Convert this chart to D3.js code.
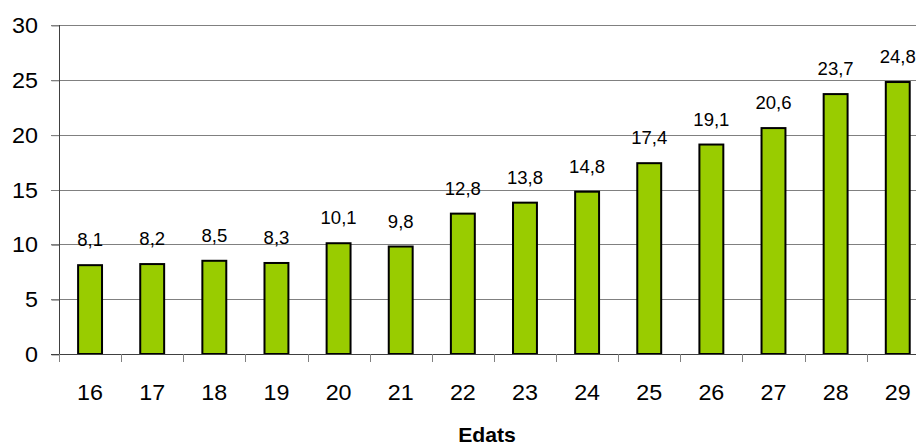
<!DOCTYPE html>
<html><head><meta charset="utf-8">
<script src="https://cdn.jsdelivr.net/npm/d3@7"></script>
<style>body{margin:0;background:#fff}svg{display:block}</style>
</head><body>
<script>
const categories = ["16","17","18","19","20","21","22","23","24","25","26","27","28","29"];
const values = [8.1,8.2,8.5,8.3,10.1,9.8,12.8,13.8,14.8,17.4,19.1,20.6,23.7,24.8];
const labels = ["8,1","8,2","8,5","8,3","10,1","9,8","12,8","13,8","14,8","17,4","19,1","20,6","23,7","24,8"];
const yTicks = [0,5,10,15,20,25,30];
const xTitle = "Edats";

const W = 916, H = 447;
const svg = d3.select("body").append("svg").attr("width", W).attr("height", H);
const font = "'Liberation Sans', Arial, sans-serif";
const SX = 1.06;

function stretchedText(g, px, py, txt, size, anchor, weight) {
  return g.append("text")
    .attr("transform", `translate(${px},${py}) scale(${SX},1)`)
    .attr("text-anchor", anchor)
    .attr("font-family", font).attr("font-size", size)
    .attr("font-weight", weight || "normal")
    .attr("fill", "#000").text(txt);
}

const x0 = 59, step = 62.13;
const x = d3.scaleBand().domain(categories).range([x0, x0 + step * categories.length]).paddingInner(0.615).paddingOuter(0.3075);
const y = d3.scaleLinear().domain([0, 30]).range([354, 25]);

// gridlines
svg.append("g").selectAll("line").data(yTicks.filter(d => d > 0)).join("line")
  .attr("x1", 51).attr("x2", W).attr("y1", d => Math.round(y(d)) + 0.5).attr("y2", d => Math.round(y(d)) + 0.5)
  .attr("stroke", "#808080").attr("stroke-width", 1);

// y axis ticks via d3 axis, labels drawn separately
const ya = svg.append("g").attr("transform", `translate(${x0 + 0.5},0)`)
  .call(d3.axisLeft(y).tickValues(yTicks).tickSize(8).tickFormat(""));
ya.select(".domain").remove();
ya.selectAll(".tick line").attr("stroke", "#808080").attr("transform", "translate(0,0.5)");
const yl = svg.append("g");
yTicks.forEach(t => stretchedText(yl, 38, y(t) + 8, String(t), 22, "end"));
svg.append("line").attr("x1", x0 + 0.5).attr("x2", x0 + 0.5).attr("y1", y(30)).attr("y2", y(0))
  .attr("stroke", "#404040");

// bars
svg.append("g").selectAll("rect").data(values).join("rect")
  .attr("x", (d, i) => x(categories[i]))
  .attr("width", x.bandwidth())
  .attr("y", d => y(d))
  .attr("height", d => y(0) - y(d))
  .attr("fill", "#99CC00").attr("stroke", "#000").attr("stroke-width", 2);

// x axis
const xb = d3.scaleLinear().domain([0, categories.length]).range([x0, x0 + step * categories.length]);
svg.append("line").attr("x1", 51).attr("x2", W).attr("y1", Math.round(y(0)) + 0.5).attr("y2", Math.round(y(0)) + 0.5)
  .attr("stroke", "#404040");
svg.append("g").selectAll("line").data(d3.range(0, categories.length + 1)).join("line")
  .attr("x1", d => Math.round(xb(d)) + 0.5).attr("x2", d => Math.round(xb(d)) + 0.5)
  .attr("y1", y(0)).attr("y2", y(0) + 8).attr("stroke", "#808080");
const xl = svg.append("g");
categories.forEach(c => stretchedText(xl, x(c) + x.bandwidth() / 2, 400, c, 22, "middle"));

// data labels
const dl = svg.append("g");
values.forEach((v, i) => stretchedText(dl, x(categories[i]) + x.bandwidth() / 2, y(v) - 19, labels[i], 17.5, "middle"));

// x title
stretchedText(svg, 487, 442, xTitle, 20, "middle", "bold");
</script>
</body></html>
